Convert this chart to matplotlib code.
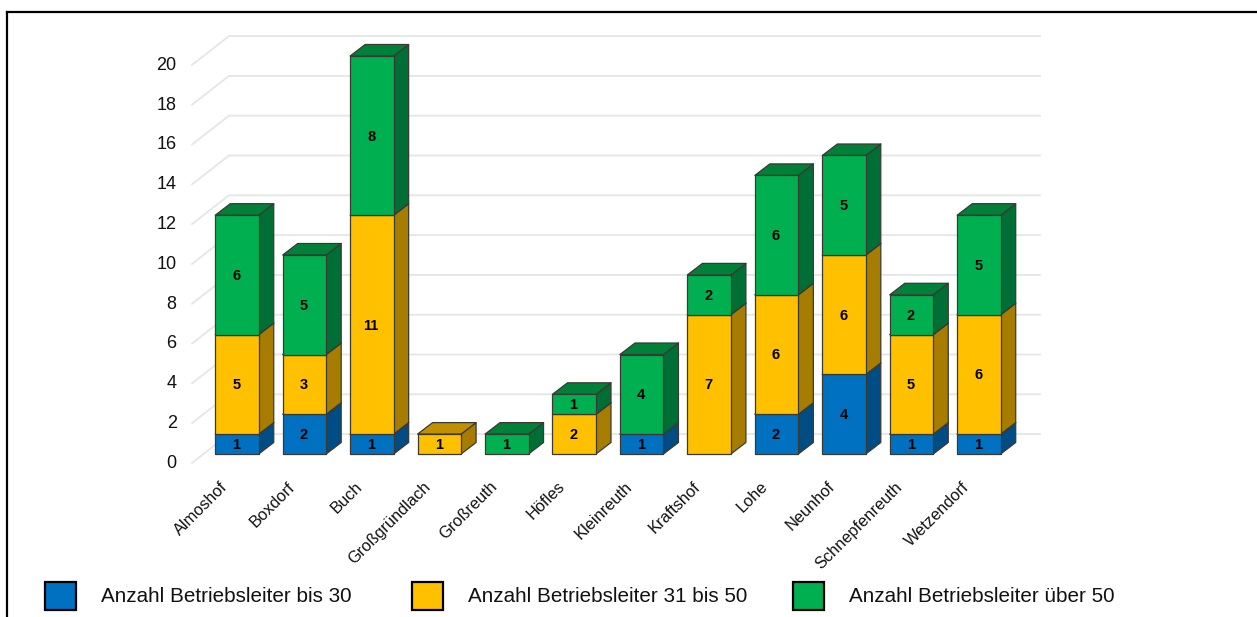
import matplotlib
matplotlib.use("Agg")
import matplotlib.pyplot as plt
from matplotlib.patches import Polygon, Rectangle
from matplotlib.transforms import ScaledTranslation

plt.rcParams["font.family"] = ["Liberation Sans", "DejaVu Sans"]

orte = ["Almoshof", "Boxdorf", "Buch", "Großgründlach", "Großreuth", "Höfles",
        "Kleinreuth", "Kraftshof", "Lohe", "Neunhof", "Schnepfenreuth", "Wetzendorf"]
bis_30 = [1, 2, 1, 0, 0, 0, 1, 0, 2, 4, 1, 1]
von_31_50 = [5, 3, 11, 1, 0, 2, 0, 7, 6, 6, 5, 6]
ueber_50 = [6, 5, 8, 0, 1, 1, 4, 2, 6, 5, 2, 5]
y_ticks = list(range(0, 21, 2))

serien = [bis_30, von_31_50, ueber_50]
namen = ["Anzahl Betriebsleiter bis 30", "Anzahl Betriebsleiter 31 bis 50", "Anzahl Betriebsleiter über 50"]
farben = ["#0070C0", "#FFC000", "#00B050"]
seite = ["#004C85", "#A67D00", "#006F35"]
oben = ["#005A9A", "#C09000", "#008038"]

W, H = 1257, 617
fig = plt.figure(figsize=(W / 100, H / 100), dpi=100)

# plot area in pixels
left, right, top, bottom = 192, 1040, 56, 454
ax = fig.add_axes([left / W, 1 - bottom / H, (right - left) / W, (bottom - top) / H])
ax.set_xlim(-0.667, 11.905)
ax.set_ylim(0, 20)
for s in ax.spines.values():
    s.set_visible(False)

# depth of the fake 3d, in data units
dx = 15 / 67.45
dy = 11.5 / 19.9
breite = 43.5 / 67.45

# grid on wall and side
for v in y_ticks:
    ax.plot([-0.667, -0.119, 11.905], [v - 0.45, v + 1, v + 1], color="#E6E6E6", lw=1.3,
            clip_on=False, zorder=1)


def segment(x, y0, y1, i):
    l = x - breite / 2
    r = x + breite / 2
    style = dict(edgecolor="#3a3a33", linewidth=0.9, clip_on=False, zorder=3, joinstyle="round")
    ax.add_patch(Polygon([(r, y0), (r + dx, y0 + dy), (r + dx, y1 + dy), (r, y1)], facecolor=seite[i], **style))
    ax.add_patch(Polygon([(l, y1), (r, y1), (r + dx, y1 + dy), (l + dx, y1 + dy)], facecolor=oben[i], **style))
    ax.add_patch(Polygon([(l, y0), (r, y0), (r, y1), (l, y1)], facecolor=farben[i], **style))


for k in range(len(orte)):
    basis = 0
    for i in range(3):
        wert = serien[i][k]
        if wert == 0:
            continue
        segment(k, basis, basis + wert, i)
        ax.text(k - 0.01, basis + wert / 2 - 0.05, str(wert), ha="center", va="center", fontsize=10.5,
                fontweight="bold", color="black", zorder=4)
        basis += wert

ax.set_yticks(y_ticks)
ax.set_xticks(range(len(orte)))
ax.set_xticklabels(orte, rotation=45, ha="right", rotation_mode="anchor", fontsize=11.8, color="#111111")
ax.tick_params(axis="both", length=0)
ax.tick_params(axis="y", labelsize=13, pad=11, labelcolor="#111111")
ax.tick_params(axis="x", pad=18)

# y labels sit a bit below the back wall level
versatz = ScaledTranslation(0, -5.3 / 72, fig.dpi_scale_trans)
for lab in ax.get_yticklabels():
    lab.set_transform(lab.get_transform() + versatz)
for lab in ax.get_xticklabels():
    lab.set_transform(lab.get_transform() + ScaledTranslation(-12.2 / 72, 0, fig.dpi_scale_trans))

# legend by hand, the gaps are not even
box_x = [45, 412, 793]
text_x = [101, 468, 849]
for i in range(3):
    fig.add_artist(Rectangle((box_x[i] / W, 1 - 609.5 / H), 31 / W, 28 / H, transform=fig.transFigure,
                             facecolor=farben[i], edgecolor="black", linewidth=1.6))
    fig.text(text_x[i] / W, 1 - 597 / H, namen[i], fontsize=14.9, va="center", ha="left", color="#111111")

# frame lines at top and left
fig.add_artist(plt.Line2D([7 / W, 1], [1 - 12 / H, 1 - 12 / H], color="black", lw=1.6))
fig.add_artist(plt.Line2D([7 / W, 7 / W], [0, 1 - 12 / H], color="black", lw=1.6))

fig.savefig("out.png", dpi=100)
